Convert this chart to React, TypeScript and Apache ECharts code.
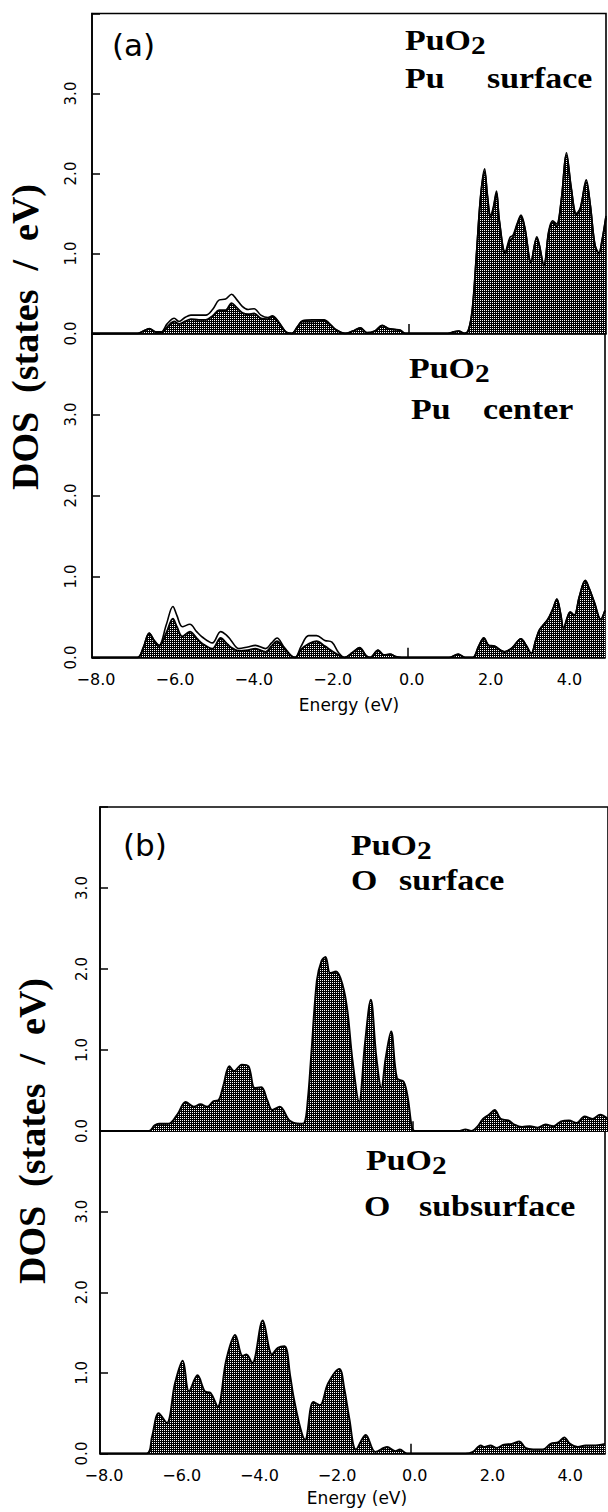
import React, { useEffect, useRef } from "react";
import * as echarts from "echarts";

// ---------- data (energy eV, DOS states/eV) ----------
const X_TICKS_MIN = -8;
const X_MAX = 5;
const Y_MAX = 4;

const PU_SURFACE_FILL: number[][] = [
  [-8, 0], [-6.85, 0], [-6.7, 0.03], [-6.55, 0.06], [-6.4, 0.02], [-6.25, 0.01], [-6.1, 0.08], [-5.92, 0.15],
  [-5.8, 0.12], [-5.65, 0.15], [-5.5, 0.18], [-5.3, 0.17], [-5.12, 0.17], [-4.95, 0.22], [-4.78, 0.29],
  [-4.62, 0.29], [-4.47, 0.38], [-4.35, 0.33], [-4.2, 0.26], [-4.05, 0.24], [-3.9, 0.25], [-3.73, 0.19],
  [-3.55, 0.18], [-3.44, 0.21], [-3.3, 0.15], [-3.1, 0.02], [-2.95, 0.0], [-2.8, 0.08], [-2.68, 0.15],
  [-2.43, 0.15], [-2.13, 0.16], [-1.95, 0.1], [-1.84, 0.05], [-1.6, 0.0], [-1.4, 0.03], [-1.21, 0.07],
  [-1.05, 0.01], [-0.85, 0.03], [-0.66, 0.1], [-0.5, 0.06], [-0.35, 0.05], [-0.2, 0.04], [-0.08, 0],
  [1.0, 0], [1.15, 0.02], [1.27, 0.03], [1.42, 0], [1.52, 0.04], [1.62, 0.3], [1.72, 0.95], [1.83, 1.7],
  [1.93, 2.02], [2.0, 1.7], [2.08, 1.45], [2.15, 1.55], [2.23, 1.75], [2.3, 1.4], [2.45, 1.0], [2.57, 1.16],
  [2.65, 1.2], [2.75, 1.35], [2.85, 1.46], [2.95, 1.3], [3.1, 0.89], [3.25, 1.19], [3.43, 0.85], [3.55, 1.25],
  [3.65, 1.39], [3.75, 1.34], [3.87, 1.65], [4.0, 2.23], [4.12, 1.8], [4.25, 1.48], [4.35, 1.55], [4.5, 1.89],
  [4.6, 1.6], [4.72, 1.1], [4.82, 1.0], [4.9, 1.15], [5.0, 1.45],
];
const PU_SURFACE_TOTAL: number[][] = [
  [-8, 0], [-6.85, 0], [-6.7, 0.03], [-6.55, 0.06], [-6.4, 0.02], [-6.25, 0.02], [-6.1, 0.12], [-5.92, 0.19],
  [-5.8, 0.15], [-5.65, 0.2], [-5.5, 0.23], [-5.3, 0.23], [-5.12, 0.23], [-4.95, 0.3], [-4.78, 0.42],
  [-4.62, 0.43], [-4.47, 0.49], [-4.35, 0.43], [-4.2, 0.34], [-4.05, 0.3], [-3.9, 0.31], [-3.73, 0.23],
  [-3.55, 0.2], [-3.44, 0.22], [-3.3, 0.16], [-3.1, 0.02], [-2.95, 0.0], [-2.8, 0.09], [-2.68, 0.16],
  [-2.43, 0.17], [-2.13, 0.17], [-1.95, 0.1], [-1.84, 0.05], [-1.6, 0.0], [-1.4, 0.03], [-1.21, 0.07],
  [-1.05, 0.01], [-0.85, 0.03], [-0.66, 0.1], [-0.5, 0.06], [-0.35, 0.05], [-0.2, 0.04], [-0.08, 0],
  [1.0, 0], [1.15, 0.02], [1.27, 0.03], [1.42, 0], [1.52, 0.04], [1.62, 0.3], [1.72, 0.96], [1.83, 1.73],
  [1.93, 2.06], [2.0, 1.74], [2.08, 1.48], [2.15, 1.58], [2.23, 1.78], [2.3, 1.43], [2.45, 1.02], [2.57, 1.2],
  [2.65, 1.23], [2.75, 1.37], [2.85, 1.48], [2.95, 1.32], [3.1, 0.9], [3.25, 1.21], [3.43, 0.86], [3.55, 1.28],
  [3.65, 1.41], [3.75, 1.37], [3.87, 1.68], [4.0, 2.26], [4.12, 1.83], [4.25, 1.5], [4.35, 1.57], [4.5, 1.92],
  [4.6, 1.62], [4.72, 1.11], [4.82, 1.01], [4.9, 1.17], [5.0, 1.47],
];

const PU_CENTER_FILL: number[][] = [
  [-8, 0], [-6.85, 0], [-6.7, 0.12], [-6.55, 0.3], [-6.42, 0.2], [-6.3, 0.14], [-6.12, 0.3], [-5.95, 0.48],
  [-5.85, 0.38], [-5.71, 0.26], [-5.52, 0.32], [-5.35, 0.24], [-5.2, 0.17], [-4.95, 0.11], [-4.74, 0.24],
  [-4.6, 0.18], [-4.49, 0.13], [-4.28, 0.08], [-4.05, 0.09], [-3.86, 0.11], [-3.6, 0.07], [-3.45, 0.14],
  [-3.31, 0.2], [-3.15, 0.12], [-2.95, 0.02], [-2.85, 0.0], [-2.7, 0.1], [-2.51, 0.17], [-2.31, 0.2],
  [-2.1, 0.14], [-1.92, 0.08], [-1.75, 0.03], [-1.6, 0], [-1.4, 0.06], [-1.22, 0.12], [-1.05, 0.02],
  [-0.95, 0.0], [-0.75, 0.09], [-0.6, 0.03], [-0.45, 0.04], [-0.3, 0.01], [-0.15, 0], [1.05, 0],
  [1.28, 0.04], [1.45, 0], [1.65, 0], [1.8, 0.14], [1.93, 0.24], [2.05, 0.15], [2.2, 0.14], [2.45, 0.07],
  [2.65, 0.12], [2.87, 0.23], [3.0, 0.15], [3.13, 0.05], [3.25, 0.22], [3.34, 0.34], [3.55, 0.47],
  [3.68, 0.6], [3.78, 0.72], [3.87, 0.55], [3.95, 0.36], [4.05, 0.5], [4.12, 0.56], [4.22, 0.52],
  [4.35, 0.75], [4.5, 0.95], [4.6, 0.85], [4.73, 0.68], [4.89, 0.47], [5.0, 0.58],
];
const PU_CENTER_TOTAL: number[][] = [
  [-8, 0], [-6.85, 0], [-6.7, 0.12], [-6.55, 0.3], [-6.42, 0.21], [-6.3, 0.15], [-6.12, 0.4], [-5.95, 0.63],
  [-5.85, 0.52], [-5.71, 0.38], [-5.52, 0.41], [-5.35, 0.32], [-5.2, 0.25], [-4.95, 0.18], [-4.74, 0.32],
  [-4.6, 0.28], [-4.49, 0.22], [-4.28, 0.11], [-4.05, 0.13], [-3.86, 0.15], [-3.6, 0.11], [-3.45, 0.18],
  [-3.31, 0.24], [-3.15, 0.14], [-2.95, 0.02], [-2.85, 0.0], [-2.7, 0.14], [-2.51, 0.27], [-2.31, 0.27],
  [-2.1, 0.21], [-1.92, 0.19], [-1.75, 0.06], [-1.6, 0], [-1.4, 0.06], [-1.22, 0.12], [-1.05, 0.02],
  [-0.95, 0.0], [-0.75, 0.09], [-0.6, 0.03], [-0.45, 0.04], [-0.3, 0.01], [-0.15, 0], [1.05, 0],
  [1.28, 0.04], [1.45, 0], [1.65, 0], [1.8, 0.14], [1.93, 0.24], [2.05, 0.15], [2.2, 0.14], [2.45, 0.07],
  [2.65, 0.12], [2.87, 0.23], [3.0, 0.15], [3.13, 0.05], [3.25, 0.22], [3.34, 0.34], [3.55, 0.47],
  [3.68, 0.6], [3.78, 0.72], [3.87, 0.55], [3.95, 0.36], [4.05, 0.5], [4.12, 0.56], [4.22, 0.52],
  [4.35, 0.75], [4.5, 0.95], [4.6, 0.85], [4.73, 0.68], [4.89, 0.47], [5.0, 0.58],
];

const O_SURFACE_FILL: number[][] = [
  [-8, 0], [-6.75, 0], [-6.6, 0.07], [-6.49, 0.09], [-6.3, 0.09], [-6.19, 0.1], [-6.0, 0.22], [-5.81, 0.36],
  [-5.6, 0.3], [-5.43, 0.33], [-5.26, 0.3], [-5.09, 0.37], [-4.97, 0.38], [-4.85, 0.55], [-4.69, 0.8],
  [-4.57, 0.74], [-4.37, 0.82], [-4.2, 0.8], [-4.04, 0.53], [-3.87, 0.54], [-3.72, 0.38], [-3.59, 0.26],
  [-3.4, 0.3], [-3.15, 0.13], [-2.89, 0.09], [-2.77, 0.1], [-2.68, 0.4], [-2.6, 0.9], [-2.45, 1.86],
  [-2.33, 2.1], [-2.23, 2.15], [-2.11, 1.95], [-1.96, 1.97], [-1.79, 1.8], [-1.67, 1.49], [-1.54, 0.88],
  [-1.37, 0.36], [-1.22, 1.08], [-1.07, 1.62], [-0.93, 0.92], [-0.8, 0.53], [-0.69, 0.9], [-0.55, 1.23],
  [-0.4, 0.65], [-0.23, 0.61], [-0.12, 0.4], [-0.02, 0.05], [0.05, 0], [1.2, 0], [1.35, 0.02], [1.5, 0],
  [1.65, 0.05], [1.8, 0.15], [1.95, 0.2], [2.1, 0.26], [2.25, 0.15], [2.45, 0.13], [2.6, 0.08], [2.8, 0.05],
  [3.0, 0.06], [3.2, 0.04], [3.4, 0.08], [3.6, 0.06], [3.8, 0.12], [4.0, 0.13], [4.2, 0.1], [4.4, 0.18],
  [4.6, 0.15], [4.8, 0.2], [5.0, 0.15],
];

const O_SUBSURFACE_FILL: number[][] = [
  [-8, 0], [-6.8, 0], [-6.66, 0.21], [-6.49, 0.5], [-6.28, 0.38], [-6.07, 0.87], [-5.87, 1.15], [-5.71, 0.77],
  [-5.49, 0.97], [-5.3, 0.77], [-5.15, 0.75], [-4.97, 0.58], [-4.75, 1.16], [-4.52, 1.47], [-4.33, 1.21],
  [-4.23, 1.23], [-4.08, 1.12], [-3.81, 1.65], [-3.57, 1.23], [-3.42, 1.31], [-3.25, 1.33], [-3.1, 0.95],
  [-3.02, 0.71], [-2.85, 0.33], [-2.72, 0.17], [-2.51, 0.64], [-2.34, 0.6], [-2.13, 0.87], [-1.84, 1.05],
  [-1.71, 0.8], [-1.58, 0.43], [-1.41, 0.05], [-1.16, 0.23], [-0.91, 0.02], [-0.61, 0.08], [-0.4, 0.03],
  [-0.28, 0.05], [-0.1, 0], [1.4, 0], [1.6, 0.02], [1.8, 0.1], [1.9, 0.08], [2.05, 0.1], [2.2, 0.07],
  [2.4, 0.11], [2.6, 0.12], [2.8, 0.15], [2.95, 0.07], [3.15, 0.05], [3.4, 0.05], [3.6, 0.12], [3.8, 0.14],
  [3.95, 0.2], [4.1, 0.12], [4.3, 0.08], [4.5, 0.1], [4.7, 0.1], [5.0, 0.12],
];

const SERIF = "'Liberation Serif', 'Times New Roman', serif";
const SANS = "'DejaVu Sans', sans-serif";

export default function App() {
  const ref = useRef<HTMLDivElement>(null);

  useEffect(() => {
    if (!ref.current) return;
    const chart = echarts.init(ref.current, undefined, { renderer: "svg" });

    const cv = document.createElement("canvas");
    cv.width = 2;
    cv.height = 2;
    const cx = cv.getContext("2d")!;
    cx.fillStyle = "#000";
    cx.fillRect(0, 0, 2, 2);
    cx.fillStyle = "#fff";
    cx.fillRect(0, 0, 1, 1);
    const pattern: any = { image: cv, repeat: "repeat" };

    const grids = [
      { left: 92, top: 13.5, width: 514, height: 320 },
      { left: 92, top: 333.5, width: 514, height: 324 },
      { left: 100, top: 807, width: 510, height: 324 },
      { left: 100, top: 1131, width: 510, height: 322.5 },
    ].map((g) => ({ ...g, show: true, borderColor: "#000", borderWidth: 1.6, backgroundColor: "transparent" }));

    const xFmt = (v: number) => (v === X_MAX ? "" : v < 0 ? "\u2212" + Math.abs(v).toFixed(1) : v.toFixed(1));
    const xAxes = grids.map((_, i) => ({
      type: "value",
      gridIndex: i,
      min: X_TICKS_MIN,
      max: X_MAX,
      interval: 2,
      axisLine: { show: true, onZero: false, lineStyle: { color: "#000", width: 1.6 } },
      axisTick: { show: false },
      splitLine: { show: false },
      axisLabel: {
        show: i === 1 || i === 3,
        formatter: xFmt,
        color: "#000",
        fontFamily: SANS,
        fontSize: 16,
        margin: 14,
        padding: [0, 0, 0, 8],
      },
    }));
    const yAxes = grids.map((_, i) => ({
      type: "value",
      gridIndex: i,
      min: 0,
      max: Y_MAX,
      interval: 1,
      axisLine: { show: true, onZero: false, lineStyle: { color: "#000", width: 1.6 } },
      axisTick: { show: true, inside: true, length: 8, lineStyle: { color: "#000", width: 1.5 } },
      splitLine: { show: false },
      axisLabel: {
        rotate: 90,
        formatter: (v: number) => (v === Y_MAX ? "" : v.toFixed(1)),
        color: "#000",
        fontFamily: SANS,
        fontSize: 15,
        margin: i < 2 ? 14 : 11,
      },
    }));

    const fermi = {
      silent: true,
      symbol: "none",
      label: { show: false },
      lineStyle: { color: "#000", width: 1.5, type: "solid" },
      data: [[{ coord: [0, 0] }, { coord: [0, 0.12] }]],
    };
    const fill = (data: number[][], i: number) => ({
      type: "line",
      xAxisIndex: i,
      yAxisIndex: i,
      data,
      smooth: 0.35,
      symbol: "none",
      lineStyle: { color: "#000", width: 1.9 },
      areaStyle: { color: pattern, opacity: 1 },
      markLine: fermi,
      z: 2,
    });
    const total = (data: number[][], i: number) => ({
      type: "line",
      xAxisIndex: i,
      yAxisIndex: i,
      data,
      smooth: 0.35,
      symbol: "none",
      lineStyle: { color: "#000", width: 1.6 },
      z: 3,
    });

    const txt = (text: string, x: number, y: number, fontSize: number, font: string, bold: boolean, extra: any = {}) => ({
      type: "text",
      x,
      y,
      ...extra,
      style: {
        text,
        fontSize,
        fontFamily: font,
        fontWeight: bold ? "bold" : "normal",
        fill: "#000",
        align: extra.align || "left",
        verticalAlign: "middle",
      },
    });
    const SX = 1.13;
    const graphic = [
      txt("(a)", 112, 45, 31, SANS, false),
      txt("PuO", 405, 40, 30, SERIF, true, { scaleX: SX }),
      txt("2", 471, 45, 26, SERIF, true, { scaleX: SX }),
      txt("Pu", 405, 78, 30, SERIF, true, { scaleX: SX }),
      txt("surface", 487, 78, 30, SERIF, true, { scaleX: SX }),

      txt("PuO", 409, 368, 30, SERIF, true, { scaleX: SX }),
      txt("2", 475, 373, 26, SERIF, true, { scaleX: SX }),
      txt("Pu", 411, 409, 30, SERIF, true, { scaleX: SX }),
      txt("center", 483, 409, 30, SERIF, true, { scaleX: SX }),

      txt("(b)", 123, 845, 31, SANS, false),
      txt("PuO", 351, 845, 30, SERIF, true, { scaleX: SX }),
      txt("2", 417, 850, 26, SERIF, true, { scaleX: SX }),
      txt("O", 351, 880, 30, SERIF, true, { scaleX: SX }),
      txt("surface", 399, 880, 30, SERIF, true, { scaleX: SX }),

      txt("PuO", 366, 1160, 30, SERIF, true, { scaleX: SX }),
      txt("2", 432, 1165, 26, SERIF, true, { scaleX: SX }),
      txt("O", 364, 1206, 30, SERIF, true, { scaleX: SX }),
      txt("subsurface", 419, 1206, 30, SERIF, true, { scaleX: SX }),

      txt("DOS  (states  /  eV)", 25, 337, 38, SERIF, true, { rotation: Math.PI / 2, align: "center" }),
      txt("DOS  (states  /  eV)", 32, 1131, 38, SERIF, true, { rotation: Math.PI / 2, align: "center" }),

      txt("Energy (eV)", 349, 705, 17, SANS, false, { align: "center" }),
      txt("Energy (eV)", 357, 1498, 17, SANS, false, { align: "center" }),
    ];

    chart.setOption({
      animation: false,
      backgroundColor: "#fff",
      grid: grids,
      xAxis: xAxes,
      yAxis: yAxes,
      series: [
        fill(PU_SURFACE_FILL, 0),
        total(PU_SURFACE_TOTAL, 0),
        fill(PU_CENTER_FILL, 1),
        total(PU_CENTER_TOTAL, 1),
        fill(O_SURFACE_FILL, 2),
        fill(O_SUBSURFACE_FILL, 3),
      ],
      graphic,
    } as any);

    return () => chart.dispose();
  }, []);

  return <div ref={ref} style={{ position: "absolute", left: 0, top: 0, width: 608, height: 1512 }} />;
}
